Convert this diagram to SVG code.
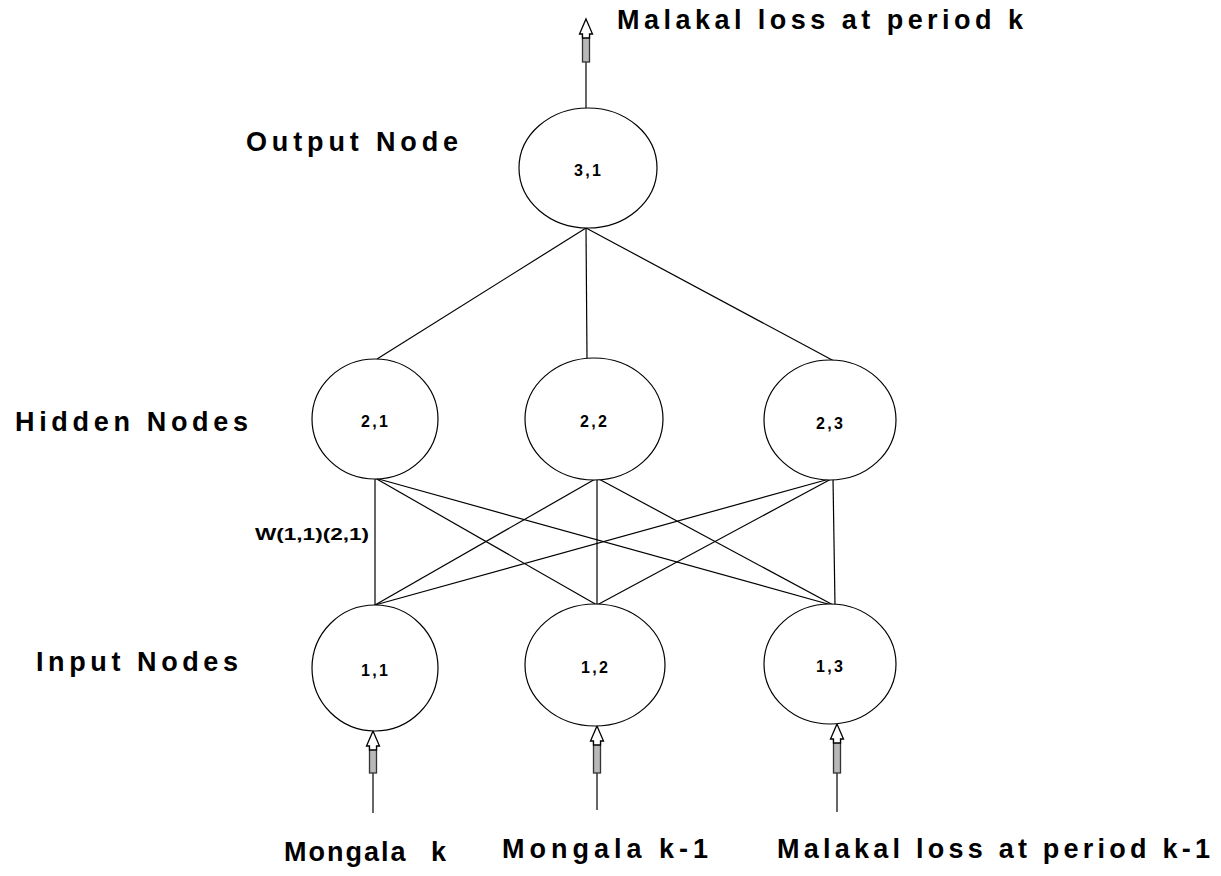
<svg xmlns="http://www.w3.org/2000/svg" width="1221" height="876" viewBox="0 0 1221 876">
<style>
.node{fill:#fff;stroke:#000;stroke-width:1.2}
.lbl{font-family:"Liberation Sans",Arial,sans-serif;font-weight:bold;font-size:16px;fill:#000}
.big{font-family:"Liberation Sans",Arial,sans-serif;font-weight:bold;font-size:27px;fill:#000}
.ln{stroke:#000;stroke-width:1.2;fill:none}
.shaft{fill:#b8b8b8;stroke:#333;stroke-width:1.3}
.head{fill:#fff;stroke:#000;stroke-width:1.3}
</style>
<rect width="1221" height="876" fill="#fff"/>
<g id="connectors">
<line class="ln" x1="586" y1="62" x2="586" y2="108"/>
<line class="ln" x1="586" y1="228" x2="377" y2="359"/>
<line class="ln" x1="586" y1="228" x2="587" y2="358"/>
<line class="ln" x1="586" y1="228" x2="834" y2="361"/>
<line class="ln" x1="375" y1="478" x2="375" y2="605"/>
<line class="ln" x1="375" y1="478" x2="597" y2="605"/>
<line class="ln" x1="375" y1="478" x2="835" y2="606"/>
<line class="ln" x1="597" y1="478" x2="375" y2="605"/>
<line class="ln" x1="597" y1="478" x2="597" y2="605"/>
<line class="ln" x1="597" y1="478" x2="835" y2="606"/>
<line class="ln" x1="833" y1="478" x2="375" y2="605"/>
<line class="ln" x1="833" y1="478" x2="597" y2="605"/>
<line class="ln" x1="833" y1="478" x2="835" y2="606"/>
<line class="ln" x1="373" y1="773" x2="373" y2="813"/>
<line class="ln" x1="597" y1="773" x2="597" y2="810"/>
<line class="ln" x1="837" y1="773" x2="837" y2="812"/>
<g id="arrow-out">
<rect class="shaft" x="582.5" y="32" width="7" height="30"/>
<path class="head" d="M586,19 L592.5,34 L589.5,34 L589.5,38 L582.5,38 L582.5,34 L579.5,34 Z"/>
</g>
<g id="arrow-in1">
<rect class="shaft" x="369.5" y="743" width="7" height="30"/>
<path class="head" d="M373,731 L379.5,746 L376.5,746 L376.5,750 L369.5,750 L369.5,746 L366.5,746 Z"/>
</g>
<g id="arrow-in2">
<rect class="shaft" x="593.5" y="738" width="7" height="35"/>
<path class="head" d="M597,726 L603.5,741 L600.5,741 L600.5,745 L593.5,745 L593.5,741 L590.5,741 Z"/>
</g>
<g id="arrow-in3">
<rect class="shaft" x="833.5" y="736" width="7" height="37"/>
<path class="head" d="M837,724 L843.5,739 L840.5,739 L840.5,743 L833.5,743 L833.5,739 L830.5,739 Z"/>
</g>
</g>
<g id="n31"><ellipse class="node" cx="588" cy="168" rx="69" ry="60"/><text class="lbl" x="574" y="176" textLength="27" lengthAdjust="spacing">3,1</text></g>
<g id="n21"><ellipse class="node" cx="375" cy="419" rx="63" ry="60"/><text class="lbl" x="361" y="427" textLength="27" lengthAdjust="spacing">2,1</text></g>
<g id="n22"><ellipse class="node" cx="594" cy="419" rx="69" ry="61"/><text class="lbl" x="580" y="427" textLength="27" lengthAdjust="spacing">2,2</text></g>
<g id="n23"><ellipse class="node" cx="830" cy="420" rx="66" ry="60"/><text class="lbl" x="816" y="429" textLength="27" lengthAdjust="spacing">2,3</text></g>
<g id="n11"><ellipse class="node" cx="375" cy="668" rx="63" ry="63"/><text class="lbl" x="361" y="676" textLength="27" lengthAdjust="spacing">1,1</text></g>
<g id="n12"><ellipse class="node" cx="595" cy="665" rx="70" ry="61"/><text class="lbl" x="581" y="673" textLength="27" lengthAdjust="spacing">1,2</text></g>
<g id="n13"><ellipse class="node" cx="830" cy="664" rx="66" ry="60"/><text class="lbl" x="816" y="672" textLength="27" lengthAdjust="spacing">1,3</text></g>
<g id="labels">
<text class="big" x="617" y="29" textLength="406" lengthAdjust="spacing">Malakal loss at period k</text>
<text class="big" x="246" y="151" textLength="212" lengthAdjust="spacing">Output Node</text>
<text class="big" x="15" y="431" textLength="233" lengthAdjust="spacing">Hidden Nodes</text>
<text class="big" x="36" y="671" textLength="202" lengthAdjust="spacing">Input Nodes</text>
<text class="lbl" x="255" y="540" textLength="114" lengthAdjust="spacingAndGlyphs">W(1,1)(2,1)</text>
<text class="big" x="284" y="861" textLength="162" lengthAdjust="spacing" style="word-spacing:14px">Mongala k</text>
<text class="big" x="502" y="858" textLength="206" lengthAdjust="spacing">Mongala k-1</text>
<text class="big" x="777" y="858" textLength="433" lengthAdjust="spacing">Malakal loss at period k-1</text>
</g>
</svg>
